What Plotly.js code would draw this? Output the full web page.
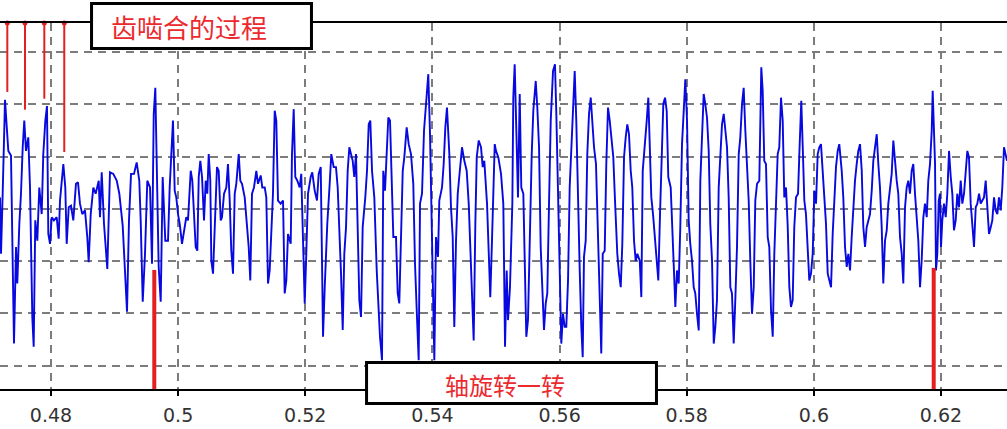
<!DOCTYPE html>
<html>
<head>
<meta charset="utf-8">
<script src="https://cdn.plot.ly/plotly-3.0.1.min.js"></script>
<style>html,body{margin:0;padding:0;background:#fff;}#chart{width:1007px;height:429px;}</style>
</head>
<body>
<div id="chart"></div>
<script>
// ---- data ----
const time = [
0.47198,0.47214,0.47240,0.47277,0.47303,0.47329,0.47371,0.47398,0.47418,0.47450,
0.47470,0.47502,0.47528,0.47555,0.47580,0.47607,0.47643,0.47670,0.47706,0.47728,
0.47753,0.47785,0.47816,0.47854,0.47879,0.47911,0.47937,0.47958,0.47985,0.48011,
0.48047,0.48090,0.48121,0.48142,0.48194,0.48225,0.48247,0.48279,0.48315,0.48351,
0.48393,0.48425,0.48456,0.48492,0.48535,0.48571,0.48593,0.48625,0.48666,0.48703,
0.48751,0.48771,0.48798,0.48834,0.48886,0.48928,0.48980,0.49034,0.49075,0.49128,
0.49164,0.49196,0.49227,0.49259,0.49306,0.49348,0.49389,0.49411,0.49443,0.49479,
0.49515,0.49558,0.49589,0.49616,0.49641,0.49663,0.49694,0.49726,0.49757,0.49798,
0.49841,0.49867,0.49893,0.49919,0.49946,0.49971,0.49998,0.50025,0.50061,0.50092,
0.50128,0.50155,0.50198,0.50223,0.50250,0.50276,0.50302,0.50324,0.50349,0.50376,
0.50407,0.50434,0.50459,0.50481,0.50506,0.50522,0.50549,0.50575,0.50611,0.50638,
0.50670,0.50690,0.50722,0.50758,0.50784,0.50811,0.50836,0.50863,0.50890,0.50915,
0.50953,0.50978,0.51005,0.51047,0.51072,0.51110,0.51135,0.51162,0.51193,0.51230,
0.51256,0.51299,0.51324,0.51362,0.51387,0.51414,0.51440,0.51466,0.51492,0.51519,
0.51544,0.51571,0.51613,0.51650,0.51676,0.51702,0.51728,0.51771,0.51791,0.51818,
0.51843,0.51875,0.51912,0.51937,0.51964,0.51991,0.52016,0.52043,0.52085,0.52110,
0.52148,0.52184,0.52211,0.52243,0.52263,0.52279,0.52306,0.52346,0.52384,0.52409,
0.52447,
0.52483,0.52510,0.52535,0.52562,0.52589,0.52614,0.52641,0.52667,0.52693,0.52719,
0.52746,0.52771,0.52798,0.52825,0.52850,0.52877,0.52903,0.52944,0.52971,0.52998,
0.53023,0.53050,0.53086,0.53124,0.53149,0.53175,0.53207,0.53227,0.53254,0.53281,
0.53306,0.53333,0.53359,0.53385,0.53427,0.53454,0.53479,0.53506,0.53533,0.53558,
0.53595,0.53627,0.53663,0.53699,0.53726,0.53757,0.53784,0.53805,0.53836,0.53868,
0.53910,0.53935,0.53962,0.53989,0.54014,0.54030,0.54056,0.54088,0.54108,0.54151,
0.54177,0.54203,0.54229,0.54266,0.54292,0.54319,0.54344,0.54371,0.54398,0.54434,
0.54465,0.54502,0.54539,0.54571,0.54591,0.54623,0.54649,0.54675,0.54697,0.54728,
0.54764,0.54791,0.54816,0.54859,0.54885,0.54910,0.54937,0.54980,0.55000,0.55036,
0.55079,0.55115,
0.55142,0.55168,0.55189,0.55220,0.55257,0.55272,0.55294,0.55319,0.55346,0.55373,
0.55398,0.55430,0.55456,0.55477,0.55503,0.55535,0.55562,0.55587,0.55625,0.55650,
0.55677,0.55703,0.55728,0.55755,0.55782,0.55807,0.55834,0.55861,0.55897,0.55928,
0.55949,0.55975,0.56002,0.56027,0.56054,0.56081,0.56106,0.56133,0.56159,0.56185,
0.56211,0.56238,0.56263,0.56290,0.56317,0.56342,0.56364,0.56384,0.56411,0.56436,
0.56463,0.56490,0.56515,0.56542,0.56573,0.56605,0.56636,0.56656,0.56679,0.56710,
0.56735,0.56762,0.56789,0.56814,0.56845,0.56872,0.56908,0.56935,0.56962,0.56987,
0.57014,0.57040,0.57065,0.57092,0.57119,0.57144,0.57171,0.57198,0.57223,0.57261,
0.57286,0.57308,0.57339,0.57371,0.57396,0.57418,0.57443,0.57470,0.57496,0.57528,
0.57553,0.57580,0.57607,0.57632,0.57659,0.57685,0.57710,0.57748,
0.57795,0.57821,0.57847,0.57874,0.57899,0.57926,0.57953,0.57978,0.58005,0.58031,
0.58056,0.58083,0.58110,0.58135,0.58162,0.58189,0.58214,0.58241,0.58267,0.58292,
0.58319,0.58346,0.58371,0.58398,0.58425,0.58450,0.58476,0.58503,0.58528,0.58555,
0.58582,0.58607,0.58634,0.58660,0.58686,0.58712,0.58739,0.58764,0.58791,0.58818,
0.58843,0.58870,0.58896,0.58922,0.58948,0.58975,0.59000,0.59027,0.59054,0.59079,
0.59106,0.59142,0.59173,0.59195,0.59220,0.59247,0.59274,0.59299,0.59326,0.59353,
0.59378,0.59405,0.59431,0.59456,0.59483,0.59510,0.59535,0.59562,0.59589,0.59614,
0.59640,0.59667,0.59692,0.59719,0.59751,0.59777,0.59802,0.59825,0.59850,0.59876,
0.59903,0.59928,0.59955,0.59982,0.60007,0.60034,0.60060,0.60086,0.60112,0.60139,
0.60164,0.60191,0.60218,0.60243,0.60270,0.60296,0.60322,0.60348,0.60375,0.60400,
0.60438,0.60463,0.60490,0.60517,0.60542,0.60569,0.60595,0.60620,0.60647,0.60674,
0.60699,0.60726,0.60753,0.60778,0.60805,0.60831,0.60856,0.60883,0.60910,0.60935,
0.60962,0.60989,0.61014,0.61040,0.61067,0.61092,0.61119,0.61146,0.61171,0.61198,
0.61224,0.61250,0.61276,0.61303,0.61328,0.61355,0.61382,0.61407,0.61434,0.61460,
0.61486,0.61512,0.61539,0.61564,0.61591,0.61618,0.61643,0.61670,0.61696,0.61722,
0.61748,0.61775,0.61800,0.61827,0.61854,0.61869,0.61890,0.61906,0.61921,0.61942,
0.61964,0.61984,0.62000,0.62020,0.62047,0.62074,0.62099,0.62126,0.62153,0.62178,
0.62204,0.62231,0.62256,0.62283,0.62310,0.62335,0.62362,0.62388,0.62414,0.62440,
0.62467,0.62492,0.62519,0.62546,0.62571,0.62598,0.62624,0.62650,0.62676,0.62703,
0.62728,0.62755,0.62782,0.62807,0.62834,0.62860,0.62886,0.62912,0.62939,0.62964,
0.62991,0.63018,0.63038
];
const amplitude = [
0.22,-0.86,0.29,2.09,1.59,1.11,1.02,-1.24,-2.58,-0.73,
-1.43,-0.29,0.29,1.18,1.69,1.11,1.37,0.41,-2.07,-2.64,
-0.22,-0.61,0.41,-0.10,1.05,1.69,1.97,-0.48,-0.67,-0.16,
-0.22,-0.16,-0.57,0.16,0.86,0.41,-0.67,0.03,0.06,-0.22,
0.48,0.51,0.10,-0.10,-0.03,-0.54,-1.02,-0.10,0.41,0.29,
0.54,-0.16,0.70,-0.29,-1.15,0.70,0.67,0.54,0.29,-0.32,
-1.18,-1.97,-0.22,0.67,0.67,0.89,0.54,-0.22,-1.78,-0.86,
0.54,0.41,-1.05,1.81,2.32,0.54,-1.11,-1.78,0.61,-0.61,
-0.61,0.41,1.18,1.69,0.35,0.22,-0.10,-0.29,-0.67,-0.41,
-0.16,-0.22,0.73,0.54,-0.22,-0.73,-0.80,0.61,0.92,0.61,
-0.22,0.54,0.29,1.05,0.54,-0.99,-1.24,-0.22,0.80,0.73,
-0.22,-0.16,0.29,0.41,0.86,0.16,-0.80,-1.24,0.29,0.48,
1.05,0.54,0.48,0.22,-0.16,-0.73,-1.37,0.29,0.41,0.73,
0.48,0.64,0.41,0.41,0.22,-1.43,-1.18,-0.48,0.29,1.88,
1.69,0.16,0.10,0.16,-1.62,-1.37,-0.48,-0.67,1.05,1.91,
0.61,0.54,0.41,0.67,-0.35,-1.81,-0.86,0.29,0.61,0.70,
0.35,0.16,0.67,0.80,-0.99,-2.45,-1.50,-0.29,0.48,1.05,
0.80,
0.80,0.41,-0.61,-1.24,-2.32,-0.86,-0.35,0.73,1.18,1.05,
0.92,0.61,1.05,-0.41,-1.75,-2.07,-0.35,0.22,0.73,1.62,
1.69,0.73,0.22,-1.18,-1.94,-2.45,-2.90,0.73,0.35,1.05,
1.75,1.69,0.73,-0.54,-0.54,-1.62,-1.81,-0.22,0.73,0.99,
1.56,1.24,1.05,0.48,-1.05,-2.07,-2.90,0.10,0.29,1.50,
2.13,2.58,1.43,-0.10,-2.01,-2.90,-0.54,-0.92,0.16,0.41,
0.86,1.56,1.94,1.05,0.03,-0.54,-2.26,-0.61,0.29,0.73,
1.18,0.92,0.73,0.10,-0.61,-1.50,-2.52,-0.29,0.99,1.31,
1.18,0.80,0.92,0.10,-0.86,-1.69,-0.61,1.24,1.11,0.99,
0.67,0.10,
-2.64,-1.18,-2.13,-1.50,0.10,2.13,2.77,1.69,0.22,2.20,
0.41,0.29,-1.50,-2.45,-2.13,-0.22,1.05,1.88,2.45,1.94,
1.18,-0.73,-1.62,-2.32,-1.81,-1.62,0.10,1.69,2.64,2.77,
1.82,0.10,-1.18,-2.58,-2.01,-2.26,-2.26,-1.37,0.41,1.18,
2.13,2.64,1.69,-0.03,-1.18,-2.26,-2.84,-0.92,-0.61,1.05,
1.82,2.13,1.69,1.18,0.86,-0.67,-2.07,-2.77,-0.86,-0.80,
0.86,1.94,1.69,1.37,0.99,0.16,-0.86,-1.24,-1.50,-0.67,
0.99,1.37,1.62,1.43,0.73,0.41,-0.61,-1.00,-0.86,-0.99,
-1.69,0.73,1.31,1.69,2.13,1.18,0.22,-0.10,-0.48,-0.86,
-1.37,-0.10,1.05,2.01,2.13,1.88,0.61,0.41,
-1.05,-1.88,-1.18,-1.43,-0.35,1.24,1.88,2.48,1.69,-0.22,
-0.67,-0.99,-1.50,-1.62,-2.01,-2.33,0.54,1.56,2.20,2.01,
1.75,1.11,-0.29,-0.99,-2.58,-2.26,-1.75,0.41,1.11,1.62,
1.82,1.56,1.18,0.22,-1.50,-1.62,-2.58,-1.75,-0.73,1.05,
1.37,2.01,2.32,1.50,0.73,0.16,-0.99,-2.01,-1.50,0.16,
0.48,0.54,2.71,2.26,0.92,0.86,-0.54,-0.73,-1.94,-2.45,
-0.86,0.10,1.05,1.18,2.13,1.69,0.22,0.41,-0.35,-1.50,
-1.88,-1.75,-0.35,0.22,0.29,1.24,2.07,1.18,0.16,-0.10,
-0.92,-1.37,-1.24,-0.86,0.35,0.10,1.05,1.18,1.24,0.73,
0.29,-0.29,-1.24,-1.37,-1.50,-0.48,0.29,0.80,1.11,1.24,
0.73,0.22,-0.73,-1.11,-0.86,-1.18,-0.54,0.10,0.54,0.86,
1.11,1.24,0.73,-0.35,-0.73,-0.35,-0.22,-0.10,0.35,0.92,
1.18,1.43,0.86,0.41,-0.35,-1.43,-0.61,-0.41,0.10,0.41,
0.67,1.31,0.86,0.54,0.29,-0.54,-0.86,-1.43,0.03,0.41,
0.54,0.29,0.73,0.86,0.29,-0.22,-0.61,-1.50,-0.99,-0.16,
0.10,-0.16,0.54,0.86,1.50,2.26,1.50,0.86,-1.18,-0.86,
0.16,0.29,-0.73,-0.22,0.10,-0.16,0.29,1.11,0.61,0.29,
-0.41,-0.22,0.29,0.03,0.54,0.10,0.29,0.67,1.11,0.99,
0.10,-0.29,-0.73,0.03,0.10,0.29,0.10,0.16,0.22,0.54,
0.03,-0.48,-0.35,-0.22,0.22,-0.03,-0.10,0.22,-0.03,0.41,
1.18,0.99,0.92
];

// tooth-mesh markers (thin red lines from the top) and shaft-revolution markers (thick red lines from the bottom)
const meshTimes = [0.47313, 0.47591, 0.47895, 0.48209];
const meshTips  = [2.24, 1.90, 2.11, 1.09];
const revTimes  = [0.49625, 0.61885];
const revTips   = [-1.17, -1.13];

const tickVals = [0.48, 0.50, 0.52, 0.54, 0.56, 0.58, 0.60, 0.62];
const tickText = ['0.48', '0.5', '0.52', '0.54', '0.56', '0.58', '0.6', '0.62'];

const meshLabel = '齿啮合的过程';
const revLabel  = '轴旋转一转';

// ---- chart ----
const xRange = [0.47198, 0.63038];
const yRange = [-3.45, 3.56];
const RED = '#e3201f';

const meshX = [], meshY = [];
meshTimes.forEach((t, i) => { meshX.push(t, t, null); meshY.push(yRange[1], meshTips[i], null); });
const revX = [], revY = [];
revTimes.forEach((t, i) => { revX.push(t, t, null); revY.push(yRange[0], revTips[i], null); });

const traces = [
  { x: time, y: amplitude, type: 'scatter', mode: 'lines',
    line: { color: '#0808e0', width: 1.9 }, hoverinfo: 'skip' },
  { x: meshX, y: meshY, type: 'scatter', mode: 'lines',
    line: { color: RED, width: 2 }, hoverinfo: 'skip' },
  { x: meshTimes, y: meshTimes.map(() => yRange[1]), type: 'scatter', mode: 'markers',
    marker: { color: RED, size: 5, symbol: 'circle' }, cliponaxis: false, hoverinfo: 'skip' },
  { x: revX, y: revY, type: 'scatter', mode: 'lines',
    line: { color: RED, width: 4 }, hoverinfo: 'skip' }
];

const grid = { showgrid: true, gridcolor: '#7c7c7c', gridwidth: 2, griddash: '8px,6px', zeroline: false };

const layout = {
  width: 1007, height: 429,
  margin: { l: 0, r: 0, t: 23, b: 40, pad: 0 },
  paper_bgcolor: '#ffffff', plot_bgcolor: '#ffffff',
  showlegend: false,
  xaxis: Object.assign({}, grid, {
    range: xRange, tickmode: 'array', tickvals: tickVals, ticktext: tickText,
    showline: true, linecolor: '#000', linewidth: 2, mirror: true,
    ticks: 'outside', ticklen: 5, tickwidth: 2, tickcolor: '#000',
    ticklabelstandoff: 3,
    tickfont: { family: 'DejaVu Sans, sans-serif', size: 19, color: '#333' }
  }),
  yaxis: Object.assign({}, grid, {
    range: yRange, tick0: 0, dtick: 1, showticklabels: false, ticks: '', showline: false
  }),
  shapes: [
    { type: 'rect', xref: 'paper', yref: 'paper', x0: 0.0909, x1: 0.3093, y0: 0.930, y1: 1.053,
      line: { color: '#000', width: 3 }, fillcolor: '#fff', layer: 'above' },
    { type: 'rect', xref: 'paper', yref: 'paper', x0: 0.3640, x1: 0.6519, y0: -0.0396, y1: 0.0724,
      line: { color: '#000', width: 3 }, fillcolor: '#fff', layer: 'above' }
  ],
  annotations: [
    { text: meshLabel, xref: 'paper', yref: 'paper', x: 0.1872, y: 0.991, xanchor: 'center', yanchor: 'middle',
      showarrow: false, font: { family: 'Noto Sans CJK SC', size: 26, color: '#ec2a2e' } },
    { text: revLabel, xref: 'paper', yref: 'paper', x: 0.5015, y: 0.012, xanchor: 'center', yanchor: 'middle',
      showarrow: false, font: { family: 'Noto Sans CJK SC', size: 24, color: '#ec2a2e' } }
  ]
};

Plotly.newPlot('chart', traces, layout, { staticPlot: true, displayModeBar: false });
</script>
</body>
</html>
